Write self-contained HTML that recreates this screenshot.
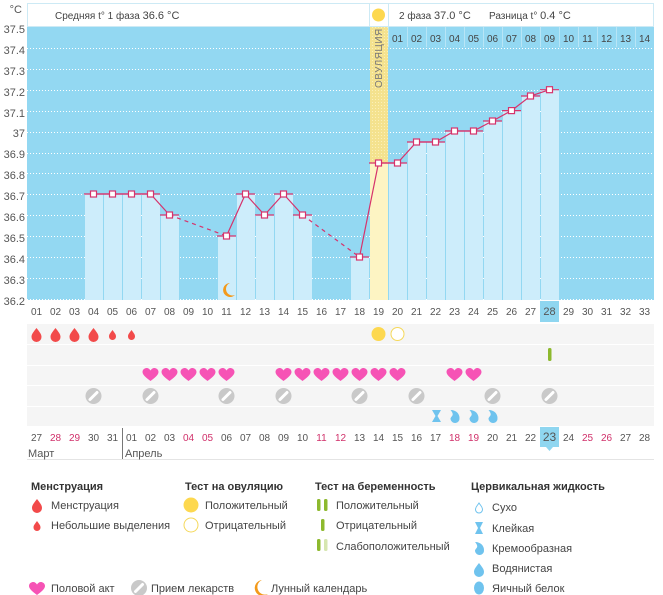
<!DOCTYPE html>
<html><head><meta charset="utf-8"><style>
body{margin:0;background:#fff;}
svg{display:block;font-family:"Liberation Sans","DejaVu Sans",sans-serif;}
</style></head><body>
<svg width="663" height="595" viewBox="0 0 663 595" xmlns="http://www.w3.org/2000/svg">
<defs>
<path id="drop" d="M0,-7 C3,-3 5,-1 5,2 A5,5 0 0 1 -5,2 C-5,-1 -3,-3 0,-7Z"/>
<path id="sdrop" d="M0,-5 C2,-2 3.5,-1 3.5,1.5 A3.5,3.5 0 0 1 -3.5,1.5 C-3.5,-1 -2,-2 0,-5Z"/>
<path id="heart" d="M0,6 C-4,3 -8,0 -8,-3 C-8,-6 -5,-7 -4,-7 C-2,-7 -1,-6 0,-4.5 C1,-6 2,-7 4,-7 C5,-7 8,-6 8,-3 C8,0 4,3 0,6Z"/>
<g id="pill"><circle r="8" fill="#c9c9c9"/><line x1="-3.5" y1="3.5" x2="3.5" y2="-3.5" stroke="#fff" stroke-width="3" stroke-linecap="round"/></g>
<path id="cream" d="M-4,-6 C2,-6 5,-2 5,2 A4.5,4.5 0 0 1 -4,3 C-4,0 1,0 -4,-6Z"/>
<pattern id="dots" width="3" height="3" patternUnits="userSpaceOnUse"><rect width="3" height="3" fill="#f4e28e"/><rect width="1" height="1" fill="#fbf0b8"/></pattern>
</defs>

<g font-size="11" fill="#555" text-anchor="end">
<text x="22" y="13">°C</text>
<text x="25" y="33">37.5</text><text x="25" y="54">37.4</text><text x="25" y="75">37.3</text><text x="25" y="96">37.2</text><text x="25" y="117">37.1</text><text x="25" y="137">37</text><text x="25" y="158">36.9</text><text x="25" y="179">36.8</text><text x="25" y="200">36.7</text><text x="25" y="221">36.6</text><text x="25" y="242">36.5</text><text x="25" y="263">36.4</text><text x="25" y="284">36.3</text><text x="25" y="305">36.2</text>
</g>

<rect x="27" y="27" width="627" height="273" fill="#93d8f2"/>
<g stroke="#fff" stroke-dasharray="1,2" stroke-width="1">
<line x1="27" x2="654" y1="48.5" y2="48.5"/><line x1="27" x2="654" y1="69.5" y2="69.5"/><line x1="27" x2="654" y1="90.5" y2="90.5"/><line x1="27" x2="654" y1="111.5" y2="111.5"/><line x1="27" x2="654" y1="132.5" y2="132.5"/><line x1="27" x2="654" y1="153.5" y2="153.5"/><line x1="27" x2="654" y1="173.5" y2="173.5"/><line x1="27" x2="654" y1="194.5" y2="194.5"/><line x1="27" x2="654" y1="215.5" y2="215.5"/><line x1="27" x2="654" y1="236.5" y2="236.5"/><line x1="27" x2="654" y1="257.5" y2="257.5"/><line x1="27" x2="654" y1="278.5" y2="278.5"/><line x1="27" x2="654" y1="299.5" y2="299.5"/>
</g>

<g fill="#cdedfb">
<rect x="85" y="194" width="18" height="106"/><rect x="104" y="194" width="18" height="106"/><rect x="123" y="194" width="18" height="106"/><rect x="142" y="194" width="18" height="106"/><rect x="161" y="215" width="18" height="85"/>
<rect x="218" y="236" width="18" height="64"/><rect x="237" y="194" width="18" height="106"/><rect x="256" y="215" width="18" height="85"/><rect x="275" y="194" width="18" height="106"/><rect x="294" y="215" width="18" height="85"/>
<rect x="351" y="257" width="18" height="43"/>
<rect x="389" y="163" width="18" height="137"/><rect x="408" y="142" width="18" height="158"/><rect x="427" y="142" width="18" height="158"/><rect x="446" y="131" width="18" height="169"/><rect x="465" y="131" width="18" height="169"/><rect x="484" y="121" width="18" height="179"/><rect x="503" y="110" width="18" height="190"/><rect x="522" y="96" width="18" height="204"/><rect x="541" y="89" width="18" height="211"/>
</g>
<rect x="370" y="27" width="18" height="136" fill="url(#dots)"/>
<rect x="370" y="163" width="18" height="137" fill="#fdf4c3"/>
<text transform="translate(382,88) rotate(-90)" font-size="10" fill="#777" letter-spacing="0.5">ОВУЛЯЦИЯ</text>

<g stroke="#b8e5f6"><line x1="388.5" x2="388.5" y1="27" y2="47"/><line x1="407.5" x2="407.5" y1="27" y2="47"/><line x1="426.5" x2="426.5" y1="27" y2="47"/><line x1="445.5" x2="445.5" y1="27" y2="47"/><line x1="464.5" x2="464.5" y1="27" y2="47"/><line x1="483.5" x2="483.5" y1="27" y2="47"/><line x1="502.5" x2="502.5" y1="27" y2="47"/><line x1="521.5" x2="521.5" y1="27" y2="47"/><line x1="540.5" x2="540.5" y1="27" y2="47"/><line x1="559.5" x2="559.5" y1="27" y2="47"/><line x1="578.5" x2="578.5" y1="27" y2="47"/><line x1="597.5" x2="597.5" y1="27" y2="47"/><line x1="616.5" x2="616.5" y1="27" y2="47"/><line x1="635.5" x2="635.5" y1="27" y2="47"/></g>
<g font-size="10" fill="#444" text-anchor="middle">
<text x="397.5" y="42">01</text><text x="416.5" y="42">02</text><text x="435.5" y="42">03</text><text x="454.5" y="42">04</text><text x="473.5" y="42">05</text><text x="492.5" y="42">06</text><text x="511.5" y="42">07</text><text x="530.5" y="42">08</text><text x="549.5" y="42">09</text><text x="568.5" y="42">10</text><text x="587.5" y="42">11</text><text x="606.5" y="42">12</text><text x="625.5" y="42">13</text><text x="644.5" y="42">14</text>
</g>

<rect x="27.5" y="3.5" width="626" height="23" fill="#fff" stroke="#cdeaf5"/>
<line x1="369.5" x2="369.5" y1="3" y2="27" stroke="#cdeaf5"/><line x1="388.5" x2="388.5" y1="3" y2="27" stroke="#cdeaf5"/>
<circle cx="378.5" cy="15" r="6.5" fill="#fdd84f"/>
<g font-size="10" fill="#444"><text x="55" y="19">Средняя t° 1 фаза <tspan font-size="11">36.6 °C</tspan></text>
<text x="399" y="19">2 фаза <tspan font-size="11">37.0 °C</tspan></text><text x="489" y="19">Разница t° <tspan font-size="11">0.4 °C</tspan></text></g>

<g stroke="#d6336c" stroke-width="1.2" fill="none">
<path d="M84,194H160M160,215H179M217,236H236M236,194H255M255,215H274M274,194H293M293,215H312M350,257H369M369,163H407M407,142H445M445,131H483M483,121H502M502,110.6H521M521,96H540M540,89.7H559"/>
<polyline points="93.5,194 112.5,194 131.5,194 150.5,194 169.5,215"/>
<polyline points="226.5,236 245.5,194 264.5,215 283.5,194 302.5,215"/>
<polyline points="359.5,257 378.5,163 397.5,163 416.5,142 435.5,142 454.5,131 473.5,131 492.5,121 511.5,110.6 530.5,96 549.5,89.7"/>
<polyline points="169.5,215 226.5,236" stroke-dasharray="4,4"/>
<polyline points="302.5,215 359.5,257" stroke-dasharray="4,4"/>
</g>
<g fill="#fff" stroke="#d6336c" stroke-width="1.2">
<rect x="90.5" y="191" width="6" height="6"/><rect x="109.5" y="191" width="6" height="6"/><rect x="128.5" y="191" width="6" height="6"/><rect x="147.5" y="191" width="6" height="6"/><rect x="166.5" y="212" width="6" height="6"/>
<rect x="223.5" y="233" width="6" height="6"/><rect x="242.5" y="191" width="6" height="6"/><rect x="261.5" y="212" width="6" height="6"/><rect x="280.5" y="191" width="6" height="6"/><rect x="299.5" y="212" width="6" height="6"/>
<rect x="356.5" y="254" width="6" height="6"/><rect x="375.5" y="160" width="6" height="6"/><rect x="394.5" y="160" width="6" height="6"/><rect x="413.5" y="139" width="6" height="6"/><rect x="432.5" y="139" width="6" height="6"/><rect x="451.5" y="128" width="6" height="6"/><rect x="470.5" y="128" width="6" height="6"/><rect x="489.5" y="118" width="6" height="6"/><rect x="508.5" y="107.6" width="6" height="6"/><rect x="527.5" y="93" width="6" height="6"/><rect x="546.5" y="86.7" width="6" height="6"/>
</g>
<path d="M230,283 A7,7 0 1 0 235,295 A6,6 0 0 1 230,283Z" fill="#f39a1b"/>

<rect x="540" y="301" width="19" height="21" fill="#8fd6f0"/>
<g font-size="10" fill="#555" text-anchor="middle">
<text x="36.5" y="315">01</text><text x="55.5" y="315">02</text><text x="74.5" y="315">03</text><text x="93.5" y="315">04</text><text x="112.5" y="315">05</text><text x="131.5" y="315">06</text><text x="150.5" y="315">07</text><text x="169.5" y="315">08</text><text x="188.5" y="315">09</text><text x="207.5" y="315">10</text><text x="226.5" y="315">11</text><text x="245.5" y="315">12</text><text x="264.5" y="315">13</text><text x="283.5" y="315">14</text><text x="302.5" y="315">15</text><text x="321.5" y="315">16</text><text x="340.5" y="315">17</text><text x="359.5" y="315">18</text><text x="378.5" y="315">19</text><text x="397.5" y="315">20</text><text x="416.5" y="315">21</text><text x="435.5" y="315">22</text><text x="454.5" y="315">23</text><text x="473.5" y="315">24</text><text x="492.5" y="315">25</text><text x="511.5" y="315">26</text><text x="530.5" y="315">27</text><text x="549.5" y="315" font-size="11">28</text><text x="568.5" y="315">29</text><text x="587.5" y="315">30</text><text x="606.5" y="315">31</text><text x="625.5" y="315">32</text><text x="644.5" y="315">33</text>
</g>

<g fill="#f5f5f5">
<rect x="27" y="324" width="627" height="20"/><rect x="27" y="345" width="627" height="20"/><rect x="27" y="366" width="627" height="19"/><rect x="27" y="386" width="627" height="20"/><rect x="27" y="407" width="627" height="19"/>
</g>
<g fill="#f24a4a">
<use href="#drop" x="36.5" y="335"/><use href="#drop" x="55.5" y="335"/><use href="#drop" x="74.5" y="335"/><use href="#drop" x="93.5" y="335"/><use href="#sdrop" x="112.5" y="335"/><use href="#sdrop" x="131.5" y="335"/>
</g>
<circle cx="378.5" cy="334" r="7" fill="#fdd84f"/><circle cx="397.5" cy="334" r="6.5" fill="#fff" stroke="#f5d85a"/>
<rect x="548" y="348" width="3.5" height="13" rx="1.5" fill="#8db92e"/>
<g fill="#f653b5">
<use href="#heart" x="150.5" y="375"/><use href="#heart" x="169.5" y="375"/><use href="#heart" x="188.5" y="375"/><use href="#heart" x="207.5" y="375"/><use href="#heart" x="226.5" y="375"/>
<use href="#heart" x="283.5" y="375"/><use href="#heart" x="302.5" y="375"/><use href="#heart" x="321.5" y="375"/><use href="#heart" x="340.5" y="375"/><use href="#heart" x="359.5" y="375"/><use href="#heart" x="378.5" y="375"/><use href="#heart" x="397.5" y="375"/>
<use href="#heart" x="454.5" y="375"/><use href="#heart" x="473.5" y="375"/>
</g>
<use href="#pill" x="93.5" y="396"/><use href="#pill" x="150.5" y="396"/><use href="#pill" x="226.5" y="396"/><use href="#pill" x="283.5" y="396"/><use href="#pill" x="359.5" y="396"/><use href="#pill" x="416.5" y="396"/><use href="#pill" x="492.5" y="396"/><use href="#pill" x="549.5" y="396"/>
<path d="M432,410H441L437.5,416L441,422H432L435.5,416Z" fill="#6fc3ee"/>
<g fill="#6fc3ee"><use href="#cream" x="454.5" y="416"/><use href="#cream" x="473.5" y="416"/><use href="#cream" x="492.5" y="416"/></g>

<rect x="540" y="427" width="19" height="20" fill="#8fd6f0"/>
<path d="M546,447L549.5,451L553,447Z" fill="#8fd6f0"/>
<g font-size="10" fill="#555" text-anchor="middle">
<text x="36.5" y="441">27</text><text x="55.5" y="441" fill="#d0306a">28</text><text x="74.5" y="441" fill="#d0306a">29</text><text x="93.5" y="441">30</text><text x="112.5" y="441">31</text><text x="131.5" y="441">01</text><text x="150.5" y="441">02</text><text x="169.5" y="441">03</text><text x="188.5" y="441" fill="#d0306a">04</text><text x="207.5" y="441" fill="#d0306a">05</text><text x="226.5" y="441">06</text><text x="245.5" y="441">07</text><text x="264.5" y="441">08</text><text x="283.5" y="441">09</text><text x="302.5" y="441">10</text><text x="321.5" y="441" fill="#d0306a">11</text><text x="340.5" y="441" fill="#d0306a">12</text><text x="359.5" y="441">13</text><text x="378.5" y="441">14</text><text x="397.5" y="441">15</text><text x="416.5" y="441">16</text><text x="435.5" y="441">17</text><text x="454.5" y="441" fill="#d0306a">18</text><text x="473.5" y="441" fill="#d0306a">19</text><text x="492.5" y="441">20</text><text x="511.5" y="441">21</text><text x="530.5" y="441">22</text><text x="549.5" y="441" font-size="12">23</text><text x="568.5" y="441">24</text><text x="587.5" y="441" fill="#d0306a">25</text><text x="606.5" y="441" fill="#d0306a">26</text><text x="625.5" y="441">27</text><text x="644.5" y="441">28</text>
</g>
<line x1="122.5" x2="122.5" y1="428" y2="459" stroke="#777"/>
<line x1="27" x2="654" y1="459.5" y2="459.5" stroke="#e4e4e4"/>
<g font-size="11" fill="#555"><text x="28" y="457">Март</text><text x="125" y="457">Апрель</text></g>

<g font-size="11" font-weight="bold" fill="#333">
<text x="31" y="490">Менструация</text><text x="185" y="490">Тест на овуляцию</text><text x="315" y="490">Тест на беременность</text><text x="471" y="490">Цервикальная жидкость</text>
</g>
<g font-size="11" fill="#444">
<text x="51" y="509">Менструация</text><text x="51" y="529">Небольшие выделения</text>
<text x="205" y="509">Положительный</text><text x="205" y="529">Отрицательный</text>
<text x="336" y="509">Положительный</text><text x="336" y="529">Отрицательный</text><text x="336" y="550">Слабоположительный</text>
<text x="492" y="511">Сухо</text><text x="492" y="532">Клейкая</text><text x="492" y="552">Кремообразная</text><text x="492" y="572">Водянистая</text><text x="492" y="592">Яичный белок</text>
<text x="51" y="592">Половой акт</text><text x="151" y="592">Прием лекарств</text><text x="271" y="592">Лунный календарь</text>
</g>
<use href="#drop" x="37" y="506" fill="#f24a4a"/><use href="#sdrop" x="37" y="526" fill="#f24a4a"/>
<circle cx="191" cy="505" r="7.5" fill="#fdd84f"/><circle cx="191" cy="525" r="7" fill="#fff" stroke="#f5d85a"/>
<rect x="317" y="499" width="3.5" height="12" rx="1.5" fill="#8db92e"/><rect x="324" y="499" width="3.5" height="12" rx="1.5" fill="#8db92e"/>
<rect x="321" y="519" width="3.5" height="12" rx="1.5" fill="#8db92e"/>
<rect x="317" y="539" width="3.5" height="12" rx="1.5" fill="#8db92e"/><rect x="324" y="539" width="3.5" height="12" rx="1.5" fill="#d6e6b0"/>
<use href="#sdrop" x="479" y="508" fill="#fff" stroke="#6fc3ee"/>
<path d="M475,522H483L480,528L483,534H475L478,528Z" fill="#6fc3ee"/>
<use href="#cream" x="479" y="548" fill="#6fc3ee"/>
<use href="#drop" x="479" y="570" fill="#6fc3ee"/>
<ellipse cx="479" cy="588" rx="5" ry="6.5" fill="#6fc3ee"/>
<use href="#heart" x="37" y="589" fill="#f653b5"/>
<use href="#pill" x="139" y="588"/>
<path d="M262,580 A8,8 0 1 0 268,594 A6.5,6.5 0 0 1 262,580Z" fill="#f39a1b"/>
</svg>
</body></html>
